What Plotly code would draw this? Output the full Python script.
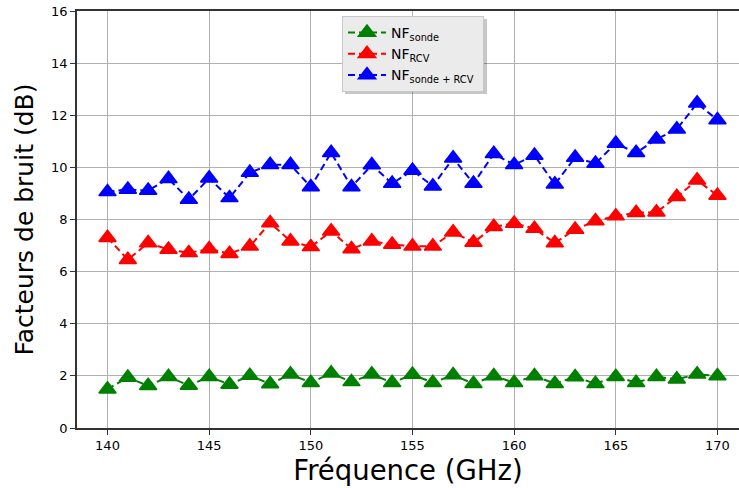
import plotly.graph_objects as go

freq = list(range(140, 171))

nf_sonde = [1.49, 1.94, 1.62, 1.97, 1.63, 1.97, 1.67, 2.01, 1.69, 2.06, 1.74,
            2.10, 1.77, 2.06, 1.74, 2.05, 1.74, 2.03, 1.70, 2.00, 1.74, 2.00,
            1.70, 1.96, 1.70, 1.97, 1.74, 1.97, 1.87, 2.06, 2.00]

nf_rcv = [7.30, 6.46, 7.10, 6.85, 6.72, 6.87, 6.69, 6.97, 7.87, 7.17, 6.95,
          7.55, 6.87, 7.17, 7.04, 6.97, 6.97, 7.51, 7.12, 7.72, 7.85, 7.65,
          7.10, 7.62, 7.94, 8.13, 8.26, 8.28, 8.87, 9.51, 8.92]

nf_total = [9.06, 9.15, 9.11, 9.56, 8.77, 9.58, 8.83, 9.80, 10.10, 10.10, 9.25,
            10.56, 9.25, 10.09, 9.38, 9.88, 9.28, 10.35, 9.38, 10.52, 10.10, 10.46,
            9.35, 10.38, 10.15, 10.92, 10.56, 11.08, 11.46, 12.46, 11.82]

series = [
    ("NF<sub>sonde</sub>", nf_sonde, "#008000"),
    ("NF<sub>RCV</sub>", nf_rcv, "#ff0000"),
    ("NF<sub>sonde + RCV</sub>&nbsp;", nf_total, "#0000ff"),
]

x_ticks = [140, 145, 150, 155, 160, 165, 170]
y_ticks = [0, 2, 4, 6, 8, 10, 12, 14, 16]

# figure geometry
W, H = 739, 488
ML, MT, MB = 77, 11, 60
PW, PH = W - ML, H - MT - MB


def px_to_paper(px, py):
    return (px - ML) / PW, (H - MB - py) / PH


fig = go.Figure()
for name, vals, col in series:
    fig.add_trace(go.Scatter(
        x=freq, y=vals, name=name, mode="lines+markers",
        line=dict(color=col, width=2, dash="7px,4px"),
        marker=dict(symbol="triangle-up", size=15, color=col,
                    line=dict(color=col, width=1.5)),
    ))

# legend shadow
sx0, sy0 = px_to_paper(345, 19)
sx1, sy1 = px_to_paper(487, 94)
fig.add_shape(type="rect", xref="paper", yref="paper",
              x0=sx0, y0=sy0, x1=sx1, y1=sy1,
              fillcolor="rgba(0,0,0,0.22)", line=dict(width=0), layer="above")

lx, ly = px_to_paper(342, 16)

font = "DejaVu Sans, sans-serif"
fig.update_layout(
    width=W, height=H,
    margin=dict(l=ML, r=0, t=MT, b=MB),
    plot_bgcolor="white", paper_bgcolor="white",
    font=dict(family=font, color="black", size=13),
    showlegend=True,
    legend=dict(
        x=lx, y=ly, xanchor="left", yanchor="top",
        bgcolor="#ebebeb", bordercolor="#c8c8c8", borderwidth=1,
        font=dict(family=font, size=14, color="black"),
        tracegroupgap=0, itemwidth=38,
    ),
    xaxis=dict(
        range=[138.5, 171.06], tickvals=x_ticks, automargin=False,
        showgrid=True, gridcolor="#b0b0b0", gridwidth=1,
        showline=True, linecolor="#333333", linewidth=1.5, mirror=True,
        ticks="outside", ticklen=5, tickwidth=1, tickcolor="#333333",
        zeroline=False, ticklabeloverflow="allow",
        title=dict(text="Fréquence (GHz)", font=dict(family=font, size=27.5), standoff=8),
    ),
    yaxis=dict(
        range=[0, 16], tickvals=y_ticks, automargin=False,
        showgrid=True, gridcolor="#b0b0b0", gridwidth=1,
        showline=True, linecolor="#333333", linewidth=1.5, mirror=False,
        ticks="outside", ticklen=5, tickwidth=1, tickcolor="#333333",
        zeroline=False, ticklabeloverflow="allow",
        title=dict(text="Facteurs de bruit (dB)", font=dict(family=font, size=25), standoff=10),
    ),
)

fig.write_html(
    "out.html",
    config={"displayModeBar": False},
    post_script="document.body.style.margin='0px'; document.body.style.overflow='hidden';",
)
